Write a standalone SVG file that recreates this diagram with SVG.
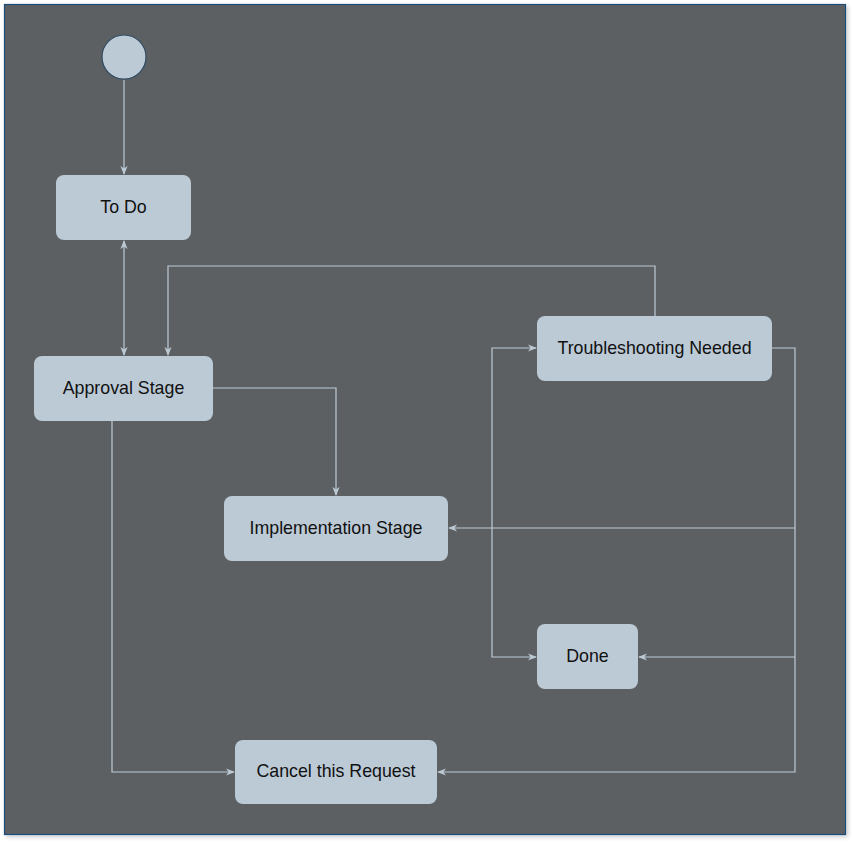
<svg xmlns="http://www.w3.org/2000/svg" width="852" height="844" viewBox="0 0 852 844">
<style>
.node{fill:#bccad6;stroke:none}
.lbl{font-family:"Liberation Sans",Arial,sans-serif;font-size:17.8px;fill:#111;text-anchor:middle;dominant-baseline:central}
.edge{fill:none;stroke:#bccad6;stroke-width:1.2}
</style>
<defs>
<marker id="arr" viewBox="0 0 10 10" refX="9" refY="5" markerWidth="9" markerHeight="9" markerUnits="userSpaceOnUse" orient="auto-start-reverse">
<path d="M0,1 L10,5 L0,9 L3,5 Z" fill="#bccad6"/>
</marker>
<filter id="sh" x="-5%" y="-5%" width="110%" height="110%"><feDropShadow dx="2" dy="2" stdDeviation="2" flood-opacity="0.2"/></filter>
</defs>
<rect x="0" y="0" width="852" height="844" fill="#ffffff"/>
<rect x="4.5" y="4.5" width="841" height="830" fill="#5d6064" stroke="#1f4e79" stroke-width="1.2" filter="url(#sh)"/>
<g id="connectors">
<path class="edge" d="M124,80 V174" marker-end="url(#arr)"/>
<path class="edge" d="M124,241 V355" marker-start="url(#arr)" marker-end="url(#arr)"/>
<path class="edge" d="M655,316 V266 H168 V355" marker-end="url(#arr)"/>
<path class="edge" d="M213,388 H336 V495" marker-end="url(#arr)"/>
<path class="edge" d="M112,421 V772 H234" marker-end="url(#arr)"/>
<path class="edge" d="M772,348 H795 V772 H438" marker-end="url(#arr)"/>
<path class="edge" d="M795,528 H449" marker-end="url(#arr)"/>
<path class="edge" d="M795,657 H639" marker-end="url(#arr)"/>
<path class="edge" d="M536,348 H492 V657 H536" marker-start="url(#arr)" marker-end="url(#arr)"/>
</g>
<g id="start"><circle cx="124" cy="57" r="22" fill="#bccad6" stroke="#2e4a62" stroke-width="1.2"/></g>
<g id="todo"><rect class="node" x="56" y="175" width="135" height="65" rx="8"/><text class="lbl" x="123.5" y="206.5">To Do</text></g>
<g id="approval"><rect class="node" x="34" y="356" width="179" height="65" rx="8"/><text class="lbl" x="123.5" y="387.5">Approval Stage</text></g>
<g id="troubleshooting"><rect class="node" x="537" y="316" width="235" height="65" rx="8"/><text class="lbl" x="654.5" y="347.5">Troubleshooting Needed</text></g>
<g id="implementation"><rect class="node" x="224" y="496" width="224" height="65" rx="8"/><text class="lbl" x="336" y="527.5">Implementation Stage</text></g>
<g id="done"><rect class="node" x="537" y="624" width="101" height="65" rx="8"/><text class="lbl" x="587.5" y="655.5">Done</text></g>
<g id="cancel"><rect class="node" x="235" y="740" width="202" height="64" rx="8"/><text class="lbl" x="336" y="771">Cancel this Request</text></g>
</svg>
